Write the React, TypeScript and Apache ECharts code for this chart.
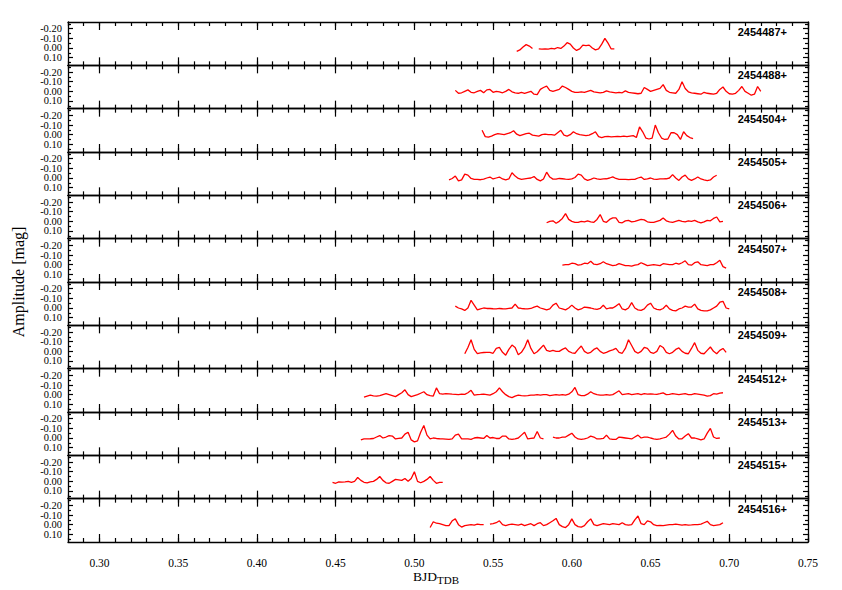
import React, { useEffect, useRef } from "react";
import * as echarts from "echarts";

// ---------- data ----------
const STEP = 0.002; // cadence in days used when reading the curves
const panelLabels = [
  "2454487+", "2454488+", "2454504+", "2454505+", "2454506+", "2454507+",
  "2454508+", "2454509+", "2454512+", "2454513+", "2454515+", "2454516+",
];
const panelStarts = [0.565, 0.526, 0.543, 0.522, 0.584, 0.594, 0.526, 0.532, 0.468, 0.466, 0.448, 0.510];

const p487 = [0.035, 0.02, -0.01, -0.035, -0.02, 0.005, null, 0.01, 0.012, 0.008, 0.012, 0.005, 0.01, -0.005, 0.005, -0.02,
  -0.055, -0.04, 0.0, 0.025, 0.01, -0.03, -0.025, -0.03, 0.0, 0.02, 0.01, -0.04, -0.1, -0.05, 0.01, 0.01];
const p488 = [-0.01, 0.02, 0.015, 0.0, -0.015, 0.01, 0.015, 0.0, -0.01, 0.015, -0.015, -0.02, 0.01, 0.0, 0.005, 0.015, 0.0, -0.02,
  0.005, 0.015, 0.02, 0.01, 0.02, 0.01, 0.0, 0.03, 0.035, -0.02, -0.04, -0.055, -0.01, 0.0, -0.01, -0.02, -0.055, -0.04, -0.02,
  0.0, 0.01, 0.01, 0.005, 0.01, 0.0, -0.01, 0.005, 0.01, 0.015, 0.01, -0.005, 0.005, 0.01, 0.015, 0.01, 0.015, -0.005, 0.01,
  0.015, 0.02, 0.025, 0.02, -0.04, -0.02, 0.0, -0.01, -0.02, -0.03, -0.07, -0.01, 0.01, 0.015, 0.02, -0.02, -0.1, -0.03, 0.005,
  0.015, 0.02, 0.025, 0.03, 0.01, 0.02, 0.025, 0.03, 0.02, -0.02, -0.045, 0.0, 0.025, 0.03, 0.02, -0.01, -0.05, 0.0, 0.02, 0.04,
  0.03, -0.05, 0.0];
const p504 = [-0.045, 0.02, 0.025, 0.015, 0.0, -0.01, -0.005, 0.0, -0.01, -0.02, -0.04, -0.005, 0.01, 0.0, -0.01, -0.015, 0.005,
  0.01, 0.015, 0.0, -0.005, 0.0, 0.0, 0.005, -0.02, -0.045, 0.005, 0.015, 0.0, -0.03, -0.01, 0.0, 0.005, 0.01, 0.005, -0.01,
  -0.03, 0.02, 0.03, 0.02, 0.018, 0.022, 0.02, 0.018, 0.02, 0.015, 0.02, 0.015, 0.01, 0.03, -0.08, -0.03, 0.035, 0.045, 0.035,
  -0.1, -0.02, 0.035, 0.05, 0.045, -0.02, -0.02, 0.0, 0.05, -0.03, 0.01, 0.03, 0.04];
const p505 = [0.02, 0.005, -0.02, 0.03, 0.02, -0.04, -0.03, 0.005, 0.015, 0.015, 0.018, 0.012, 0.0, -0.01, 0.01, 0.0, -0.01,
  0.01, 0.02, 0.01, -0.055, -0.02, 0.005, 0.015, 0.01, 0.005, 0.0, -0.015, 0.015, 0.03, 0.01, -0.06, -0.01, 0.012, 0.012, 0.005,
  0.008, 0.012, 0.015, 0.01, -0.005, -0.04, -0.03, 0.01, 0.025, 0.015, 0.0, 0.01, 0.015, 0.01, 0.008, 0.0, -0.012, 0.005, 0.015,
  0.015, 0.015, 0.016, 0.015, 0.015, 0.0, -0.01, 0.015, 0.008, 0.0, 0.012, 0.015, 0.01, 0.01, 0.008, 0.0, -0.035, 0.0, 0.025,
  -0.01, -0.03, 0.01, 0.025, 0.01, -0.01, 0.01, 0.02, 0.028, 0.02, -0.01, -0.028];
const p506 = [0.015, 0.0, -0.005, 0.02, 0.0, -0.03, -0.08, -0.02, 0.0, 0.01, 0.01, 0.0, 0.005, -0.005, 0.005, 0.01, -0.02, -0.07,
  0.0, 0.01, -0.02, -0.035, -0.035, 0.01, 0.015, -0.005, -0.01, 0.005, 0.0, -0.01, -0.02, -0.015, 0.005, 0.01, 0.01, 0.0, -0.01,
  -0.035, -0.005, 0.005, 0.01, 0.0, -0.01, 0.0, 0.005, -0.005, 0.0, -0.01, 0.005, 0.015, 0.005, -0.01, -0.005, -0.03, -0.045,
  0.005, 0.0];
const p507 = [0.005, 0.0, 0.0, -0.015, -0.01, 0.005, 0.0, -0.015, -0.01, -0.035, -0.005, 0.0, -0.01, -0.03, -0.01, 0.0, 0.01,
  0.005, -0.01, 0.0, 0.01, 0.01, 0.015, 0.005, 0.0, -0.02, -0.005, 0.01, 0.005, 0.0, 0.005, 0.01, -0.01, -0.005, 0.0, 0.0,
  -0.015, -0.005, -0.02, -0.04, 0.0, 0.005, -0.02, -0.03, 0.0, 0.005, 0.01, 0.0, 0.0, -0.02, -0.045, 0.02, 0.035];
const p508 = [-0.02, 0.0, 0.01, 0.025, 0.0, -0.08, -0.03, 0.02, 0.01, 0.0, 0.005, 0.005, 0.008, 0.01, 0.005, 0.008, 0.01, 0.005,
  0.0, -0.04, 0.0, 0.005, 0.008, 0.01, 0.005, -0.01, -0.02, 0.0, 0.01, 0.02, 0.01, -0.03, -0.05, 0.0, 0.01, 0.02, 0.0, -0.03, 0.0,
  0.02, 0.01, -0.01, -0.005, 0.0, 0.01, 0.015, 0.005, -0.03, 0.01, 0.0, 0.0, -0.02, -0.045, 0.01, 0.02, 0.0, -0.055, 0.0, 0.02,
  0.025, 0.01, -0.03, -0.05, 0.0, 0.015, 0.02, 0.005, -0.03, 0.01, 0.025, 0.03, 0.01, 0.0, -0.02, -0.01, -0.01, -0.04, 0.01,
  0.025, 0.03, 0.03, 0.02, 0.0, -0.02, -0.06, -0.07, 0.0, 0.01];
const p509 = [0.025, -0.04, -0.12, -0.02, 0.025, 0.015, 0.012, 0.01, 0.01, 0.02, -0.03, -0.04, 0.01, 0.04, -0.02, -0.065, -0.04,
  0.035, 0.01, -0.04, -0.12, -0.03, 0.025, 0.005, -0.03, -0.065, -0.01, 0.0, -0.01, 0.0, 0.0, -0.02, -0.035, 0.0, 0.015, 0.02,
  -0.02, -0.055, 0.0, 0.02, 0.01, -0.02, -0.035, 0.0, 0.02, 0.01, -0.005, -0.015, -0.03, 0.01, 0.02, -0.03, -0.12, -0.06, 0.0,
  0.02, 0.0, -0.04, -0.03, 0.01, 0.02, 0.0, -0.06, -0.04, 0.01, 0.025, 0.01, -0.02, -0.035, 0.0, 0.02, 0.025, -0.03, -0.09,
  -0.01, 0.02, 0.025, -0.01, -0.045, 0.0, 0.025, -0.01, -0.03, 0.01];
const p512 = [0.025, 0.015, 0.005, 0.012, 0.015, 0.01, 0.0, -0.01, 0.0, 0.01, 0.02, 0.0, -0.02, -0.05, 0.0, 0.02, 0.01, 0.0,
  -0.015, -0.03, 0.0, 0.01, 0.015, -0.07, -0.01, -0.005, -0.01, -0.008, -0.005, -0.003, 0.0, -0.005, -0.003, -0.02, -0.045,
  0.005, 0.0, -0.002, -0.005, 0.0, 0.005, -0.01, -0.03, -0.07, -0.03, 0.0, 0.02, 0.03, 0.015, 0.005, 0.01, 0.012, 0.01, 0.005,
  0.005, 0.0, 0.005, 0.0, 0.0, 0.01, 0.005, 0.0, 0.005, 0.0, 0.005, -0.005, -0.03, -0.075, 0.0, 0.01, 0.01, -0.005, -0.03,
  -0.01, 0.0, 0.005, 0.005, 0.0, 0.005, 0.0, -0.02, -0.04, 0.0, -0.005, -0.01, 0.0, -0.005, -0.01, 0.0, -0.01, -0.005, -0.008,
  -0.005, -0.003, -0.01, -0.018, 0.0, -0.003, -0.01, -0.005, 0.0, -0.005, -0.01, 0.0, 0.0, -0.01, -0.005, 0.0, 0.005, 0.015,
  0.01, -0.01, -0.005, -0.015, -0.02];
const p513 = [0.02, 0.01, 0.01, 0.008, 0.005, -0.01, -0.025, 0.0, -0.01, -0.025, -0.02, 0.01, 0.005, 0.0, -0.04, -0.06, 0.02,
  0.04, 0.03, -0.06, -0.13, -0.03, 0.01, 0.0, 0.005, 0.008, 0.01, 0.012, 0.015, 0.01, -0.03, -0.04, 0.01, 0.01, 0.01, 0.015,
  0.0, -0.005, 0.0, 0.005, -0.025, 0.0, -0.005, 0.005, 0.005, -0.02, -0.02, 0.01, 0.015, 0.008, 0.0, -0.03, -0.06, 0.01, 0.005,
  0.0, -0.068, 0.0, 0.01, null, null, -0.01, 0.0, 0.0, -0.01, -0.01, -0.03, -0.05, -0.01, 0.01, 0.015, 0.01, 0.0, -0.02, -0.01,
  0.01, 0.01, 0.005, -0.03, 0.01, 0.015, 0.015, -0.01, -0.005, 0.0, 0.005, 0.01, -0.01, -0.03, 0.0, -0.01, -0.01, 0.0, 0.008,
  0.015, 0.01, 0.0, -0.01, -0.04, -0.08, -0.02, 0.01, 0.008, -0.02, -0.045, 0.0, 0.0, 0.01, 0.02, 0.01, -0.05, -0.1, -0.01,
  0.005, 0.0];
const p515 = [0.01, 0.02, 0.005, 0.008, 0.005, 0.0, 0.01, 0.0, -0.04, -0.01, 0.01, 0.015, 0.005, 0.0, -0.02, -0.05, -0.01, 0.015,
  0.02, 0.0, -0.02, -0.015, -0.01, -0.03, 0.0, -0.03, -0.1, 0.0, 0.015, 0.0, -0.02, -0.05, -0.01, 0.02, 0.01, 0.01];
const p516 = [0.03, -0.03, -0.015, -0.01, 0.0, 0.01, 0.01, -0.04, -0.06, 0.0, 0.025, 0.01, 0.005, 0.0, 0.005, -0.005, 0.0, 0.0,
  null, -0.005, -0.01, -0.02, -0.04, 0.0, 0.01, 0.0, -0.005, 0.0, 0.005, -0.005, 0.01, 0.0, -0.01, 0.01, -0.01, -0.02, 0.01, 0.0,
  -0.02, -0.04, -0.065, 0.0, 0.02, 0.03, 0.0, -0.06, 0.0, 0.02, 0.025, 0.01, -0.03, -0.06, 0.0, 0.01, 0.0, -0.01, -0.005, 0.0,
  -0.01, -0.005, 0.0, -0.02, 0.0, 0.005, 0.0, -0.05, -0.09, -0.01, 0.0, -0.04, -0.03, 0.0, 0.01, 0.008, 0.01, 0.005, 0.0, 0.0,
  -0.005, 0.0, 0.005, 0.0, 0.005, 0.003, 0.0, 0.0, -0.005, -0.02, -0.035, 0.0, 0.01, 0.005, 0.0, -0.02];

const panelValues = [p487, p488, p504, p505, p506, p507, p508, p509, p512, p513, p515, p516];

const xMajorTicks = [0.3, 0.35, 0.4, 0.45, 0.5, 0.55, 0.6, 0.65, 0.7, 0.75];
const yTickLabels = [-0.2, -0.1, 0.0, 0.1];
const yLabelsSetA = [-0.2, 0.0]; // labels split over two axes so no axis sees overlapping neighbours
const yLabelsSetB = [-0.1, 0.1];
const yMinorTicks = [-0.25, -0.15, -0.05, 0.05, 0.15];

// ---------- layout ----------
const W = 842;
const H = 590;
const LEFT = 68;
const RIGHT_X = 808;
const TOP = 22;
const PANEL_H = 43.333;
const X_MIN = 0.28;
const X_MAX = 0.75;
const Y_MIN = -0.27;
const Y_MAX = 0.18;
const SERIF = '"Liberation Serif", "DejaVu Serif", serif';
const SANS = '"Liberation Sans", "DejaVu Sans", sans-serif';

export default function App() {
  const ref = useRef<HTMLDivElement>(null);

  useEffect(() => {
    if (!ref.current) return;
    const chart = echarts.init(ref.current, undefined, { renderer: "svg" });
    const n = panelLabels.length;
    const grids: any[] = [];
    const xAxes: any[] = [];
    const yAxes: any[] = [];
    const series: any[] = [];
    const graphics: any[] = [];
    const axisLineStyle = { color: "#000", width: 1.3 };
    const tickStyle = { color: "#000", width: 1.2 };
    const yLabelStyle = {
      showMinLabel: true,
      showMaxLabel: true,
      formatter: (v: number) => v.toFixed(2),
      margin: 6,
      fontFamily: SERIF,
      fontSize: 10.5,
      lineHeight: 9,
      color: "#000",
    };
    const Y_PER_GRID = 5;

    for (let k = 0; k < n; k++) {
      const top = TOP + k * PANEL_H;
      grids.push({ left: LEFT, width: RIGHT_X - LEFT, top, height: PANEL_H, containLabel: false });
      const isLast = k === n - 1;
      const baseX = { type: "value", gridIndex: k, min: X_MIN, max: X_MAX, splitLine: { show: false } };
      ["bottom", "top"].forEach((pos) => {
        xAxes.push({
          ...baseX,
          position: pos,
          interval: 0.01,
          axisLine: { show: true, onZero: false, lineStyle: axisLineStyle },
          axisTick: { show: true, inside: true, length: 4, lineStyle: tickStyle },
          axisLabel: { show: false },
        });
        xAxes.push({
          ...baseX,
          position: pos,
          axisLine: { show: false, onZero: false },
          axisTick: { show: true, inside: true, length: 8, customValues: xMajorTicks, lineStyle: tickStyle },
          axisLabel: {
            show: isLast && pos === "bottom",
            customValues: xMajorTicks,
            showMinLabel: true,
            showMaxLabel: true,
            formatter: (v: number) => v.toFixed(2),
            margin: 15,
            fontFamily: SERIF,
            fontSize: 11.5,
            color: "#000",
          },
        });
      });
      const baseY = { type: "value", gridIndex: k, min: Y_MIN, max: Y_MAX, inverse: true, splitLine: { show: false } };
      ["left", "right"].forEach((pos) => {
        yAxes.push({
          ...baseY,
          position: pos,
          axisLine: { show: true, onZero: false, lineStyle: axisLineStyle },
          axisTick: { show: true, inside: true, length: 3, customValues: yMinorTicks, lineStyle: tickStyle },
          axisLabel: { show: false },
        });
        yAxes.push({
          ...baseY,
          position: pos,
          axisLine: { show: false, onZero: false },
          axisTick: { show: true, inside: true, length: 5, customValues: yTickLabels, lineStyle: tickStyle },
          axisLabel: pos === "left" ? { ...yLabelStyle, customValues: yLabelsSetA } : { show: false },
        });
      });
      yAxes.push({
        ...baseY,
        position: "left",
        axisLine: { show: false, onZero: false },
        axisTick: { show: false },
        axisLabel: { ...yLabelStyle, customValues: yLabelsSetB },
      });

      const start = panelStarts[k];
      const data = panelValues[k].map((v, i) => [Math.round((start + i * STEP) * 10000) / 10000, v]);
      series.push({
        type: "line",
        xAxisIndex: 4 * k,
        yAxisIndex: Y_PER_GRID * k,
        data,
        showSymbol: false,
        connectNulls: false,
        lineStyle: { color: "#ff0000", width: 1.3 },
        itemStyle: { color: "#ff0000" },
        silent: true,
        clip: true,
      });

      graphics.push({
        type: "text",
        x: RIGHT_X - 21,
        y: top + 10,
        style: {
          text: panelLabels[k],
          align: "right",
          verticalAlign: "middle",
          font: `bold 11px ${SANS}`,
          fill: "#000",
        },
      });
    }

    graphics.push({
      type: "text",
      x: 18,
      y: TOP + (n * PANEL_H) / 2,
      rotation: Math.PI / 2,
      style: { text: "Amplitude [mag]", align: "center", verticalAlign: "middle", font: `16px ${SERIF}`, fill: "#000" },
    });
    graphics.push({
      type: "text",
      x: 437,
      y: 576,
      style: { text: "BJD", align: "right", verticalAlign: "middle", font: `13.5px ${SERIF}`, fill: "#000" },
    });
    graphics.push({
      type: "text",
      x: 437,
      y: 580,
      style: { text: "TDB", align: "left", verticalAlign: "middle", font: `11px ${SERIF}`, fill: "#000" },
    });

    chart.setOption({
      animation: false,
      backgroundColor: "#fff",
      grid: grids,
      xAxis: xAxes,
      yAxis: yAxes,
      series,
      graphic: graphics,
    });
    return () => chart.dispose();
  }, []);

  return <div ref={ref} style={{ position: "fixed", left: 0, top: 0, width: W, height: H }} />;
}
